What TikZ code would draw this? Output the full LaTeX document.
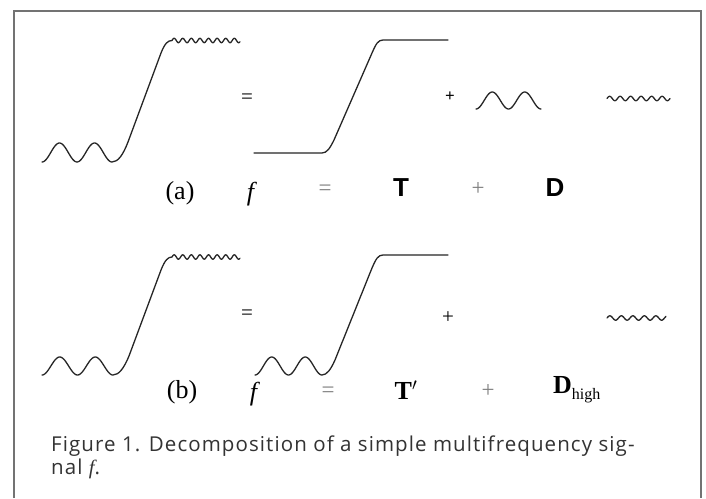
\documentclass[tikz,border=0pt]{standalone}
\usepackage{fontspec}
\setmainfont{Liberation Serif}
\newfontfamily\capfont[LetterSpace=5.3]{Open Sans}
\newfontfamily\boldsans{Liberation Sans}
\begin{document}
\begin{tikzpicture}[x=1pt,y=-1pt,
  sig/.style={line width=1.3pt, draw=black!85, line join=round, line cap=round},
  frame/.style={draw=black!55, line width=1.8pt},
  lbl/.style={inner sep=0pt, font=\fontsize{26}{28}\selectfont},
  eqs/.style={inner sep=0pt, text=black!50, font=\fontsize{23}{26}\selectfont},
  bsans/.style={inner sep=0pt, font=\fontsize{26}{28}\boldsans\bfseries},
  bserif/.style={inner sep=0pt, font=\fontsize{26}{28}\selectfont\bfseries},
  small/.style={inner sep=0pt, font=\fontsize{21}{24}\selectfont},
  captxt/.style={inner sep=0pt, anchor=base west, text=black!80, font=\fontsize{20.5}{22}\capfont}]
\useasboundingbox (0,0) rectangle (706,498);
\fill[white] (0,0) rectangle (706,498);
\draw[frame] (14,498) -- (14,11) -- (701,11) -- (701,498);

% ---------- (a) ----------
% f
\draw[sig] plot[domain=42:112, samples=80] (\x,{152.5+9.5*cos(360*((\x-42)/35))})
  .. controls (118,162) and (123,155) .. (128,142) -- (161,53)
  .. controls (165,43) and (168,40.5) .. (172,40.5)
  -- plot[domain=172:240, samples=120] (\x,{40.5-2.2*sin(360*((\x-172)/8.6))});
\node[small] (eqa) at (247,99) {=};
% T
\draw[sig] (254,153) -- (322,153)
  .. controls (327,153) and (330,148) .. (334,140) -- (372,53)
  .. controls (376,44) and (378,40) .. (383,40) -- (448,40);
\node[small, font=\fontsize{17}{18}\selectfont\bfseries] (pla) at (450,97) {+};
% D
\draw[sig] plot[domain=476:541, samples=80] (\x,{100.5+8.5*cos(360*((\x-476)/32.5))});
% small wave
\draw[sig] plot[domain=607:670, samples=120] (\x,{98.5-2.2*sin(360*((\x-607)/10.5))});

\node[lbl] (la) at (180,193) {(a)};
\node[lbl] (fa) at (252,194) {\textit{f}};
\node[eqs] (ea) at (325,190) {=};
\node[bsans] (Ta) at (401,188) {T};
\node[eqs] (pa) at (478,189) {+};
\node[bsans] (Da) at (555,188) {D};

% ---------- (b) ----------
\draw[sig] plot[domain=42:113, samples=80] (\x,{366+9*cos(360*((\x-42)/35.5))})
  .. controls (119,375) and (124,368) .. (129,356) -- (161,270)
  .. controls (165,260) and (168,257) .. (172,257)
  -- plot[domain=172:240, samples=120] (\x,{257-2.2*sin(360*((\x-172)/8.6))});
\node[small] (eqb) at (247,315) {=};
% T'
\draw[sig] plot[domain=255:322, samples=80] (\x,{366+9*cos(360*((\x-255)/33.5))})
  .. controls (327,375) and (331,369) .. (335,360) -- (372,268)
  .. controls (376,259) and (378,255) .. (383,255) -- (448,255);
\node[small] (plb) at (448,318) {+};
% small wave
\draw[sig] plot[domain=607:666, samples=120] (\x,{318-2.2*sin(360*((\x-607)/11.5))});

\node[lbl] (lb) at (182,392) {(b)};
\node[lbl] (fb) at (255,394) {\textit{f}};
\node[eqs] (eb) at (328,392) {=};
\node[bserif] (Tb) at (406,390) {T$'$};
\node[eqs] (pb) at (488,391) {+};
\node[bserif, anchor=west] (Db) at (553,390) {D\textmd{\fontsize{16}{18}\selectfont\raisebox{-6pt}{high}}};

% caption
\node[captxt] (c1) at (51,451) {Figure 1. Decomposition of a simple multifrequency sig-};
\node[captxt] (c2) at (51,474) {nal \textit{\fontspec{Liberation Serif}f}.};
\end{tikzpicture}
\end{document}
